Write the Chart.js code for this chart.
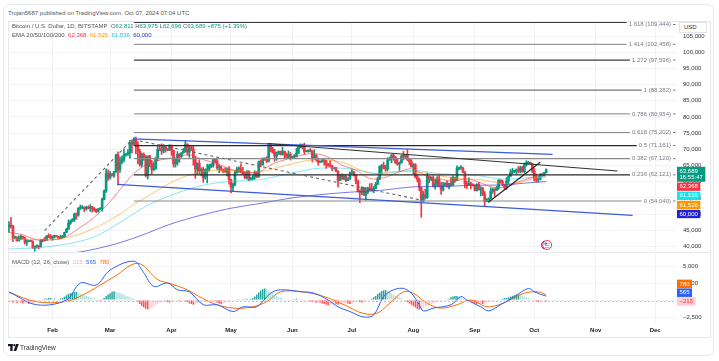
<!DOCTYPE html>
<html><head><meta charset="utf-8">
<script src="https://cdn.jsdelivr.net/npm/chart.js@4.4.1/dist/chart.umd.min.js"></script>
<style>
html,body{margin:0;padding:0;background:#fff;width:719px;height:361px;overflow:hidden;font-family:"Liberation Sans",Arial,sans-serif}
#card{position:absolute;left:3px;top:4px;width:711px;height:352px;border:1px solid #e6e8ee;border-radius:7px;box-sizing:border-box}
#frame{position:absolute;left:8px;top:21px;width:703px;height:317px;border:1px solid #e6e8ee;box-sizing:border-box}
#sep{position:absolute;left:8px;top:252px;width:703px;height:1px;background:#e6e8ee}
canvas{position:absolute;left:0}
#c1{top:21px}
#c2{top:252px}
.t{position:absolute;font-size:6px;line-height:7px;white-space:nowrap;color:#555}
.g{color:#089981}
#usd{position:absolute;left:679px;top:22px;width:28px;height:11px;border:1px solid #e0e3eb;background:#fff;box-sizing:border-box;font-size:6px;line-height:9px;padding-left:4px;color:#333}
</style></head>
<body>
<div id="card"></div>
<div id="frame"></div>
<div id="sep"></div>
<canvas id="c1" width="719" height="231"></canvas>
<canvas id="c2" width="719" height="85"></canvas>
<div class="t" style="left:8px;top:10px">Trojan5687 published on TradingView.com, Oct 07, 2024 07:04 UTC</div>
<div class="t" style="left:12px;top:23px">Bitcoin / U.S. Dollar, 1D, BITSTAMP&nbsp; O<span class="g">62,811</span> H<span class="g">63,975</span> L<span class="g">62,696</span> C<span class="g">63,689</span> <span class="g">+875 (+1.39%)</span></div>
<div class="t" style="left:12px;top:31.5px">EMA 20/50/100/200&nbsp; <span style="color:#f23645">62,368</span>&nbsp; <span style="color:#ff9800">61,526</span>&nbsp; <span style="color:#22c7dd">61,536</span>&nbsp; <span style="color:#2f2fd6">60,000</span></div>
<div class="t" style="left:12px;top:259px">MACD (12, 26, close)&nbsp; <span style="color:#f7a8b4">215</span>&nbsp; <span style="color:#2962ff">565</span>&nbsp; <span style="color:#ff6d00">780</span></div>
<div id="usd">USD</div>
<svg style="position:absolute;left:8px;top:344px" width="11" height="7" viewBox="0 0 11 7"><rect x="0" y="0" width="4.6" height="2.2" fill="#131722"/><rect x="2.3" y="0" width="2.3" height="7" fill="#131722"/><circle cx="6.3" cy="1.2" r="1.1" fill="#131722"/><polygon points="8,0 10.8,0 8.2,7 5.6,7" fill="#131722"/></svg>
<div class="t" style="left:20px;top:344px;font-size:6.5px;color:#333">TradingView</div>
<script>
// ---------- categories ----------
const START = Date.UTC(2024,0,10);
const N_DAYS = 337;
const labels = Array.from({length:N_DAYS},(_,i)=>new Date(START+i*864e5).toISOString().slice(0,10));
const monthNames = ['Jan','Feb','Mar','Apr','May','Jun','Jul','Aug','Sep','Oct','Nov','Dec'];
const priceTicks = [40,45,50,55,60,65,70,75,80,85,90,95,100,105];
const macdTicks = [-25,0,25,50];

// ---------- daily candles (thousands USD), Jan 10 .. Oct 7 2024 ----------
const opens = [
46.1,46.6,46.3,42.8,42.8,41.7,42.5,43.1,42.7,41.3,41.6,41.7,41.6,39.5,39.9,40.1,40.0,41.8,42.1,42.0,43.3,42.9,
42.6,43.1,43.2,43.0,42.6,42.7,43.1,44.3,45.3,47.1,47.8,48.3,50.0,49.7,51.8,51.9,52.1,51.6,52.1,51.8,52.3,51.8,51.3,50.7,51.6,51.7,54.5,57.1,62.5,
61.2,62.4,62.0,63.1,68.3,63.8,66.1,66.9,68.3,68.5,69.0,72.1,71.5,73.1,71.4,69.4,65.3,68.4,67.6,62.0,67.9,65.5,63.8,64.0,67.2,70.0,69.9,69.5,70.8,69.9,69.7,
71.3,69.7,65.5,66.0,68.5,67.8,68.9,69.4,71.6,69.1,70.6,70.0,67.1,63.9,65.7,63.4,63.8,61.3,63.5,63.8,64.9,64.9,66.8,66.4,64.3,64.5,63.8,63.4,63.1,63.8,
60.6,58.3,59.1,62.9,63.9,64.0,63.2,62.3,61.2,63.1,60.8,60.8,61.5,62.9,61.6,66.2,65.2,67.0,66.9,66.3,71.4,70.1,69.1,67.9,68.5,69.3,68.5,69.4,68.4,67.6,68.4,
67.5,67.8,67.8,68.8,70.6,71.1,70.8,69.3,69.3,69.6,69.5,67.3,68.2,66.8,66.0,66.2,66.7,66.5,65.2,65.0,64.9,64.1,64.3,63.2,60.3,61.8,60.9,61.6,60.3,60.9,
62.7,62.8,62.0,60.2,57.0,56.6,58.2,55.8,56.7,58.0,57.7,57.3,57.9,59.2,60.8,64.7,65.0,64.1,63.9,66.7,67.1,68.2,67.6,65.9,65.4,65.8,67.9,67.8,68.3,66.8,66.2,
64.6,65.3,61.5,60.7,58.1,54.0,56.0,55.1,61.7,60.9,60.9,58.7,59.3,60.6,58.7,57.5,58.9,59.5,58.4,59.5,59.0,61.2,60.4,64.1,64.2,64.2,62.9,59.4,59.0,59.4,59.1,
58.9,57.3,59.1,57.5,57.9,56.2,53.9,54.1,54.8,57.0,57.6,57.3,58.1,60.5,60.0,59.1,58.2,60.3,61.7,62.9,63.2,63.3,63.6,63.3,64.3,63.1,65.2,65.8,65.8,65.6,
63.3,60.8,60.6,60.8,62.1,62.1,62.811];
const highs = [
47.7,48.9,46.5,43.2,43.0,43.3,43.5,43.2,42.9,42.1,41.8,41.9,41.7,40.1,40.5,40.3,42.2,42.2,42.8,43.3,43.9,43.7,
43.3,43.5,43.4,43.1,43.5,43.4,44.4,45.6,48.2,48.2,48.6,50.3,50.4,52.0,52.8,52.6,52.2,52.4,52.5,52.9,52.4,52.0,51.5,51.7,51.9,54.9,57.5,64.0,63.7,
63.2,62.5,63.2,68.5,69.2,67.6,67.9,70.1,68.6,69.9,72.8,72.9,73.6,73.8,72.4,70.0,68.9,68.9,68.1,68.0,68.2,66.6,65.9,67.6,71.1,71.5,71.7,71.5,70.9,70.3,71.4,
71.3,69.7,66.9,69.3,68.7,69.0,70.3,72.7,71.7,71.0,71.2,71.2,67.9,65.8,66.8,64.3,64.5,64.0,65.4,65.4,65.6,67.2,67.2,67.1,65.3,64.8,63.9,64.3,64.2,64.7,
60.8,59.6,63.3,64.5,64.6,65.5,64.4,62.9,63.4,63.4,61.4,61.8,63.4,63.1,66.4,66.7,67.4,67.4,67.7,71.5,71.9,70.6,70.0,69.2,69.5,69.5,70.6,69.5,68.9,69.5,69.0,
67.9,68.4,70.3,71.0,71.7,71.6,71.9,69.6,69.9,70.2,69.6,69.9,68.4,67.3,66.4,66.9,67.2,66.6,65.7,66.5,65.1,64.5,64.5,63.4,62.3,62.4,62.3,62.2,61.2,63.0,
63.8,63.3,62.2,60.5,57.5,58.5,58.3,58.2,58.3,59.4,59.5,58.5,59.8,61.4,64.9,65.4,66.1,65.1,67.4,67.6,68.4,68.5,67.8,67.1,66.1,68.2,69.4,68.3,70.0,67.0,66.8,
65.6,65.6,62.2,61.1,58.3,57.0,57.7,62.7,61.8,61.5,61.8,60.7,61.6,61.8,59.8,59.8,59.7,60.3,59.6,61.4,61.8,61.4,64.9,64.5,65.0,64.5,63.2,60.2,61.2,59.9,59.4,
59.0,59.4,59.8,58.5,58.3,57.0,54.8,55.0,58.1,58.0,57.9,58.6,60.6,60.6,60.4,59.2,61.3,61.8,63.8,64.1,63.6,64.0,64.7,64.8,64.8,65.8,66.5,66.2,66.1,65.6,
64.1,62.4,61.5,62.5,62.4,62.9,63.975];
const lows = [
44.3,45.6,41.5,42.4,41.7,41.7,42.1,42.2,40.7,40.3,41.4,41.5,39.4,38.5,39.5,39.3,39.8,41.4,41.6,41.8,42.7,42.3,
41.9,42.6,42.9,42.3,42.3,42.6,42.8,44.3,45.3,46.8,47.7,47.7,48.4,49.3,51.4,51.6,50.7,51.2,51.6,50.8,50.6,50.9,50.5,50.6,51.3,50.9,54.4,56.7,60.4,
60.8,61.7,61.3,62.9,59.0,62.9,65.6,66.1,67.9,68.1,67.2,68.8,71.3,68.6,65.6,64.8,64.6,66.6,61.5,60.8,64.6,62.3,63.3,63.8,66.4,69.5,68.4,68.9,69.1,69.6,69.6,
68.1,64.5,64.5,65.1,66.0,67.5,68.8,69.1,68.2,67.5,69.6,65.1,61.0,62.2,62.3,61.8,59.8,60.8,59.6,63.2,64.3,64.5,65.8,63.8,62.8,63.3,62.8,62.9,61.8,59.2,
56.5,56.9,58.8,62.6,62.9,62.7,62.3,60.9,60.8,60.2,60.5,60.6,60.8,61.2,61.3,64.6,65.1,66.6,65.9,66.1,69.2,68.8,66.3,66.6,68.5,68.2,68.2,67.3,67.1,67.1,66.7,
67.4,67.3,67.6,68.6,70.4,70.2,68.5,69.2,69.1,69.2,66.1,66.9,66.3,65.1,65.9,66.0,65.1,64.1,64.7,64.5,63.4,63.9,63.2,58.4,60.3,60.7,60.6,60.0,60.3,60.7,
62.5,61.8,59.4,56.8,53.5,56.0,55.8,54.3,56.3,57.2,57.1,56.6,57.8,59.2,60.6,62.4,63.9,63.2,63.3,66.6,65.8,66.6,65.5,65.1,63.5,65.8,66.7,67.1,66.5,65.3,64.5,
62.3,61.2,59.9,57.2,49.0,53.9,54.6,54.8,59.6,60.3,58.4,57.7,58.5,58.4,56.1,57.1,58.8,58.4,57.8,58.6,58.8,59.8,60.3,63.6,63.8,62.8,58.1,57.9,58.8,57.8,58.7,
57.2,57.1,57.4,55.6,55.7,52.6,53.8,53.6,54.6,56.4,55.5,57.3,57.6,59.5,58.7,57.5,57.6,59.2,61.6,62.4,62.8,62.4,62.7,62.7,62.9,62.7,64.8,65.4,65.4,62.8,
60.2,59.9,59.9,60.5,61.7,61.8,62.696];
const closes = [
46.6,46.3,42.8,42.8,41.7,42.5,43.1,42.7,41.3,41.6,41.7,41.6,39.5,39.9,40.1,40.0,41.8,42.1,42.0,43.3,42.9,42.6,
43.1,43.2,43.0,42.6,42.7,43.1,44.3,45.3,47.1,47.8,48.3,50.0,49.7,51.8,51.9,52.1,51.6,52.1,51.8,52.3,51.8,51.3,50.7,51.6,51.7,54.5,57.1,62.5,61.2,
62.4,62.0,63.1,68.3,63.8,66.1,66.9,68.3,68.5,69.0,72.1,71.5,73.1,71.4,69.4,65.3,68.4,67.6,62.0,67.9,65.5,63.8,64.0,67.2,70.0,69.9,69.5,70.8,69.9,69.7,71.3,
69.7,65.5,66.0,68.5,67.8,68.9,69.4,71.6,69.1,70.6,70.0,67.1,63.9,65.7,63.4,63.8,61.3,63.5,63.8,64.9,64.9,66.8,66.4,64.3,64.5,63.8,63.4,63.1,63.8,60.6,
58.3,59.1,62.9,63.9,64.0,63.2,62.3,61.2,63.1,60.8,60.8,61.5,62.9,61.6,66.2,65.2,67.0,66.9,66.3,71.4,70.1,69.1,67.9,68.5,69.3,68.5,69.4,68.4,67.6,68.4,67.5,
67.8,67.8,68.8,70.6,71.1,70.8,69.3,69.3,69.6,69.5,67.3,68.2,66.8,66.0,66.2,66.7,66.5,65.2,65.0,64.9,64.1,64.3,63.2,60.3,61.8,60.9,61.6,60.3,60.9,62.7,
62.8,62.0,60.2,57.0,56.6,58.2,55.8,56.7,58.0,57.7,57.3,57.9,59.2,60.8,64.7,65.0,64.1,63.9,66.7,67.1,68.2,67.6,65.9,65.4,65.8,67.9,67.8,68.3,66.8,66.2,64.6,
65.3,61.5,60.7,58.1,54.0,56.0,55.1,61.7,60.9,60.9,58.7,59.3,60.6,58.7,57.5,58.9,59.5,58.4,59.5,59.0,61.2,60.4,64.1,64.2,64.2,62.9,59.4,59.0,59.4,59.1,58.9,
57.3,59.1,57.5,57.9,56.2,53.9,54.1,54.8,57.0,57.6,57.3,58.1,60.5,60.0,59.1,58.2,60.3,61.7,62.9,63.2,63.3,63.6,63.3,64.3,63.1,65.2,65.8,65.8,65.6,63.3,
60.8,60.6,60.8,62.1,62.1,62.8,63.689];

// ---------- EMA readings (day index, thousands) ----------
const ema20Idx = [0,7,14,21,28,35,42,49,56,63,70,77,84,91,98,105,112,119,126,133,140,147,154,161,168,175,182,189,196,203,210,217,224,231,238,245,252,259,266,271];
const ema20Val = [44.3,43.6,42.0,42.0,42.8,45.5,48.5,52.5,57.5,62.5,65.5,66.8,67.5,68.3,66.8,65.6,63.8,63.0,63.0,65.5,66.9,68.1,68.7,67.6,65.1,63.6,61.0,61.2,62.8,64.0,61.9,60.9,60.2,60.9,59.6,58.2,58.6,60.4,61.6,62.368];
const ema50Idx = [0,14,28,42,56,63,70,84,98,112,126,140,154,168,182,196,210,224,238,252,266,271];
const ema50Val = [42.3,42.2,42.6,45.3,50.0,53.0,55.5,60.4,63.2,63.5,63.0,65.1,66.8,66.0,62.6,63.2,62.7,61.1,60.6,59.3,61.1,61.526];
const ema100Idx = [0,21,42,56,70,84,98,112,126,143,157,173,187,204,218,235,249,265,271];
const ema100Val = [39.2,40.0,42.7,47.4,52.7,56.3,58.9,60.1,60.6,62.7,64.2,63.9,62.5,63.5,62.4,62.0,60.8,61.4,61.536];
const ema200Idx = [0,22,36,51,65,82,96,112,126,143,157,173,187,204,218,235,249,265,271];
const ema200Val = [35.5,37.0,38.3,40.3,43.0,47.0,49.5,51.8,53.2,55.0,56.0,56.8,57.3,58.4,58.5,58.9,59.0,59.8,60.0];

// ---------- MACD readings (hundreds) ----------
const macdIdx = [0,14,29,36,44,51,63,68,73,80,85,91,98,105,113,118,125,132,137,148,154,161,166,172,179,184,189,194,199,203,207,209,214,223,228,231,238,242,248,255,262,265,271];
const macdVal = [12,-7,0,25,22,44,57,40,20,25,15,12,-7,-7,-17,-10,-10,10,15,12,10,0,-10,-17,-25,-22,5,15,17,10,-7,-16,-12,-7,5,0,-10,-16,-7,5,17,12,5.65];
const signalIdx = [0,14,29,39,46,53,65,75,81,90,96,103,113,123,130,137,148,159,169,179,186,192,199,204,211,218,226,233,241,249,260,267,271];
const signalVal = [11,-2.5,-2,10,22,34,54,30,24.5,15,5,-5,-12,-10,-2.5,12,12,5,-7,-20,-19,-5,12,10,-5,-12,-7,0,-10,-5,10,12,7.8];
const histVal = [
-3,-3,-4,-3,-4,-3, -4,-5,-5,-4,-6,-6,-5, -4,-3,-2,-1, 1,2,2,3,3,2,2,1, 1,2,3,5, 7,9,10,11,12,12,11,
9,8,7,6,5,4,3,2,0,-1, -2,1,3, 6,8,10,12,13,12,11,10, 9,8,6,5,4,3,2,1,
-3,-6,-9,-11,-13,-14,-14,-12,-10, -8,-6,-4,-3,-2,-1, -3,-4,-3,-2,-1, -1,-2,-1,-1,-2,
-3,-5,-6,-7,-6,-5,-4,-3, -2,-2,-1,-1,-2,-1, -2,-4,-5,-6,-5,-4,-3,-2,-1, -1,0,1,1,0,1, 1,2,1,2,3,
5,8,11,14,16,17,16, 14,12,10,8,6,4,3, 2,1,0,-1,0,1, 1,2,1,0,-1,-1,0, -1,-2,-3,-3,-4,-3,
-4,-5,-6,-7,-8,-7,-6,-5,-6, -7,-6,-5,-5,-4,-5,-6,-5,-4,-3,-2, -3,-4,-3,-2,-1,0,2,
4,6,9,11,13,14,15,14,12, 10,8,6,5,4,3,1,-1, -3,-5,-7,-9,-11,-13,-14,-14,-12,-10,
-8,-7,-6,-5,-4,-3,-2,-2,-1,-1, 1,2,4,5,6,6,5, 3,2,1,-1, -2,-3,-4,-5,-6,-6,-5,-6,-5,
-4,-3,-2,-2,-1,-1,0,1, 2,3,3,4,5,6,7,8,8,7,6, 5,4,3,2,1, -1,-2,-3,-3,-3,-2,-2.15];

// ---------- drawings ----------
const fibRatios = ['1.618','1.414','1.272','1','0.786','0.618','0.5','0.382','0.236','0'];
const fibPrices = [109.444,102.458,97.596,88.282,80.954,75.202,71.161,67.120,62.121,54.040];
const fibPriceText = ['109,444','102,458','97,596','88,282','80,954','75,202','71,161','67,120','62,121','54,040'];
const fibStartIdx = 63;
const fibColors = ['#3a3a3a','#9a9a9a','#3a3a3a','#777','#9a9a9a','#8a8a8a','#2a2a2a','#8a8a8a','#2a2a2a','#8a8a8a'];
const trendLines = [
  {a:[62.6,73.2], b:[274.2,68.45], color:'#3b5bdb', w:1.3, dash:[]},
  {a:[54.5,59.2], b:[314.6,49.6], color:'#3b5bdb', w:1.3, dash:[]},
  {a:[130.3,71.8], b:[307,63.3], color:'#333', w:1.2, dash:[]},
  {a:[242,53.7], b:[268,66.0], color:'#222', w:1.2, dash:[]},
  {a:[18,44.9], b:[62,72.9], color:'#666', w:1.1, dash:[3,3]},
  {a:[66,72.6], b:[208,54.3], color:'#666', w:1.1, dash:[3,3]}
];
const priceTags = [
  {v:63.689, t:'63,689', sub:'16:55:47', bg:'#089981', fg:'#fff'},
  {v:62.368, t:'62,368', bg:'#f23645', fg:'#fff'},
  {v:61.536, t:'61,536', bg:'#12e4f0', fg:'#fff'},
  {v:61.526, t:'61,526', bg:'#ff9800', fg:'#fff'},
  {v:60.000, t:'60,000', bg:'#2323d6', fg:'#fff'}
];
const macdTags = [
  {v:-2.15, t:'\u2212215', bg:'#ffcdd2', fg:'#f23645'},
  {v:5.65, t:'565', bg:'#2962ff', fg:'#fff'},
  {v:7.80, t:'780', bg:'#ff6d00', fg:'#fff'}
];

const N = closes.length;
function sparse(idx, vals){ const a = new Array(N).fill(null); idx.forEach((k,j)=>{a[k]=vals[j];}); return a; }
const G = '#089981', R = '#f23645';
const candleColor = ctx => closes[ctx.dataIndex] >= opens[ctx.dataIndex] ? G : R;
const histColor = ctx => { const i=ctx.dataIndex, v=histVal[i], p=i>0?histVal[i-1]:v;
  if (v>=0) return v>=p ? '#26a69a' : '#b2dfdb'; return v<p ? '#ff5252' : '#ffcdd2'; };
const FONT = '"Liberation Sans", Arial, sans-serif';
const fmt = n => Math.round(n).toLocaleString('en-US');
const monthTickFilter = s => { s.ticks = s.ticks.filter(t => labels[t.value] && labels[t.value].endsWith('-01')); };
const gridCol = '#f1f3f7';

Chart.defaults.font.family = FONT;

function tag(ctx, x, top, h, tg){
  ctx.font = '6px ' + FONT;
  const w = Math.max(ctx.measureText(tg.t).width, tg.sub ? ctx.measureText(tg.sub).width : 0) + 5;
  ctx.fillStyle = tg.bg; ctx.fillRect(x, top, w, h);
  ctx.fillStyle = tg.fg; ctx.textAlign='left'; ctx.textBaseline='middle';
  ctx.fillText(tg.t, x+2.5, top + (tg.sub ? 4.3 : h/2));
  if (tg.sub) ctx.fillText(tg.sub, x+2.5, top + 11);
  return w;
}

const priceOverlay = {
  id:'priceOverlay',
  afterDatasetsDraw(chart){
    const {ctx, chartArea:a, scales:{x,y}} = chart;
    ctx.save();
    ctx.font = '6px ' + FONT;
    // fib levels (labels not clipped)
    fibPrices.forEach((p,i)=>{
      const py = Math.max(y.getPixelForValue(p), a.top + 1.5);
      const txt = fibRatios[i] + ' (' + fibPriceText[i] + ')';
      const w = ctx.measureText(txt).width;
      const xr = a.right - 5;
      const ty = Math.max(py, a.top + 3.5);
      ctx.fillStyle = '#787b86'; ctx.textAlign='right'; ctx.textBaseline='middle';
      ctx.fillText(txt, xr, ty);
      ctx.strokeStyle = fibColors[i]; ctx.lineWidth = 1.2; ctx.setLineDash([]);
      ctx.beginPath(); ctx.moveTo(x.getPixelForValue(fibStartIdx), py); ctx.lineTo(xr - w - 2, py); ctx.stroke();
      ctx.strokeStyle = '#787b86'; ctx.lineWidth = 1;
      ctx.beginPath(); ctx.moveTo(a.right-3, ty); ctx.lineTo(a.right-0.5, ty); ctx.stroke();
    });
    ctx.beginPath(); ctx.rect(a.left, a.top, a.right-a.left, a.bottom-a.top); ctx.clip();
    trendLines.forEach(l=>{
      ctx.strokeStyle = l.color; ctx.lineWidth = l.w; ctx.setLineDash(l.dash);
      ctx.beginPath();
      ctx.moveTo(x.getPixelForValue(l.a[0]), y.getPixelForValue(l.a[1]));
      ctx.lineTo(x.getPixelForValue(l.b[0]), y.getPixelForValue(l.b[1]));
      ctx.stroke();
    });
    ctx.setLineDash([]);
    // event flag
    const fx = x.getPixelForValue(271.5), fy = a.bottom - 7;
    ctx.fillStyle='#fff'; ctx.strokeStyle='#f23645'; ctx.lineWidth=1;
    ctx.beginPath(); ctx.arc(fx, fy, 4.5, 0, Math.PI*2); ctx.fill(); ctx.stroke();
    ctx.strokeStyle='#9c27b0'; ctx.beginPath(); ctx.arc(fx-1.5, fy, 4.2, Math.PI*0.6, Math.PI*1.4); ctx.stroke();
    ctx.fillStyle='#f7a1aa'; ctx.fillRect(fx-2.5, fy-2, 5, 1); ctx.fillRect(fx-2.5, fy, 5, 1); ctx.fillRect(fx-2.5, fy+2, 5, 1);
    ctx.fillStyle='#5c6bc0'; ctx.fillRect(fx-2.5, fy-2.5, 2.2, 2.2);
    ctx.restore();
    // price tags
    ctx.save();
    let prevBottom = -1e9;
    priceTags.forEach(tg=>{
      const h = tg.sub ? 15 : 8.3;
      let top = y.getPixelForValue(tg.v) - 3;
      if (top < prevBottom + 0.8) top = prevBottom + 0.8;
      tag(ctx, a.right + 1, top, h, tg);
      prevBottom = top + h;
    });
    ctx.restore();
  }
};

new Chart(document.getElementById('c1'), {
  type:'bar',
  data:{ labels, datasets:[
    {type:'line', data:sparse(ema20Idx,ema20Val), borderColor:'rgba(242,54,69,0.6)', borderWidth:1, pointRadius:0, pointHoverRadius:0, spanGaps:true, tension:0.35, order:0},
    {type:'line', data:sparse(ema50Idx,ema50Val), borderColor:'rgba(255,152,0,0.55)', borderWidth:1, pointRadius:0, pointHoverRadius:0, spanGaps:true, tension:0.35, order:0},
    {type:'line', data:sparse(ema100Idx,ema100Val), borderColor:'rgba(40,210,220,0.55)', borderWidth:1, pointRadius:0, pointHoverRadius:0, spanGaps:true, tension:0.35, order:0},
    {type:'line', data:sparse(ema200Idx,ema200Val), borderColor:'rgba(70,60,215,0.7)', borderWidth:1, pointRadius:0, pointHoverRadius:0, spanGaps:true, tension:0.35, order:0},
    {data:lows.map((l,i)=>[l,highs[i]]), backgroundColor:candleColor, barThickness:1, grouped:false, order:2},
    {data:opens.map((o,i)=>[o,closes[i]]), backgroundColor:candleColor, barThickness:2, minBarLength:1, grouped:false, order:1}
  ]},
  options:{
    responsive:false, animation:false, devicePixelRatio:1,
    layout:{autoPadding:false, padding:{left:8,right:0,top:0,bottom:0}},
    plugins:{legend:{display:false}, tooltip:{enabled:false}},
    scales:{
      x:{ offset:true, ticks:{display:false}, grid:{color:gridCol, drawTicks:false, offset:false}, border:{display:false},
          afterBuildTicks:monthTickFilter, afterFit:s=>{s.height=0;} },
      y:{ position:'right', min:38.272, max:109.657,
          afterBuildTicks:s=>{ s.ticks = priceTicks.map(v=>({value:v})); },
          afterFit:s=>{s.width=43; s.paddingTop=0; s.paddingBottom=0;},
          grid:{color:gridCol, drawTicks:false}, border:{display:false},
          ticks:{padding:7, color:'#333', font:{size:6}, callback:v=>fmt(v*1000)} }
    }
  },
  plugins:[priceOverlay]
});

const macdOverlay = {
  id:'macdOverlay',
  afterDatasetsDraw(chart){
    const {ctx, chartArea:a, scales:{y}} = chart;
    ctx.save();
    const py = y.getPixelForValue(histVal[N-1]);
    ctx.strokeStyle='#c4c4c4'; ctx.lineWidth=1; ctx.setLineDash([2,2]);
    ctx.beginPath(); ctx.moveTo(a.left, py); ctx.lineTo(a.right, py); ctx.stroke();
    ctx.setLineDash([]);
    let prevTop = 1e9;
    macdTags.forEach(tg=>{
      const h = 8.5;
      let top = y.getPixelForValue(tg.v) - h/2;
      if (top + h > prevTop - 0.3) top = prevTop - 0.3 - h;
      tag(ctx, a.right + 1, top, h, tg);
      prevTop = top;
    });
    ctx.restore();
  }
};

new Chart(document.getElementById('c2'), {
  type:'bar',
  data:{ labels, datasets:[
    {type:'line', data:sparse(macdIdx,macdVal), borderColor:'#2962ff', borderWidth:1, pointRadius:0, pointHoverRadius:0, spanGaps:true, tension:0.35, order:0},
    {type:'line', data:sparse(signalIdx,signalVal), borderColor:'#ff6d00', borderWidth:1, pointRadius:0, pointHoverRadius:0, spanGaps:true, tension:0.35, order:0},
    {data:histVal, backgroundColor:histColor, barPercentage:0.75, categoryPercentage:1, order:1}
  ]},
  options:{
    responsive:false, animation:false, devicePixelRatio:1,
    layout:{autoPadding:false, padding:{left:8,right:0,top:0,bottom:0}},
    plugins:{legend:{display:false}, tooltip:{enabled:false}},
    scales:{
      x:{ offset:true, grid:{color:gridCol, drawTicks:false, offset:false}, border:{display:false},
          afterBuildTicks:monthTickFilter, afterFit:s=>{s.height=15;},
          ticks:{autoSkip:false, maxRotation:0, padding:5, color:'#222', font:{size:6, weight:'bold'},
                 callback:(v)=>monthNames[+labels[v].slice(5,7)-1]} },
      y:{ position:'right', min:-32.35, max:70.6,
          afterBuildTicks:s=>{ s.ticks = macdTicks.map(v=>({value:v})); },
          afterFit:s=>{s.width=43; s.paddingTop=0; s.paddingBottom=0;},
          grid:{color:gridCol, drawTicks:false}, border:{display:false},
          ticks:{padding:7, color:'#333', font:{size:6}, callback:v=> v<0 ? '\u2212'+fmt(-v*100) : fmt(v*100)} }
    }
  },
  plugins:[macdOverlay]
});
</script>
</body></html>
